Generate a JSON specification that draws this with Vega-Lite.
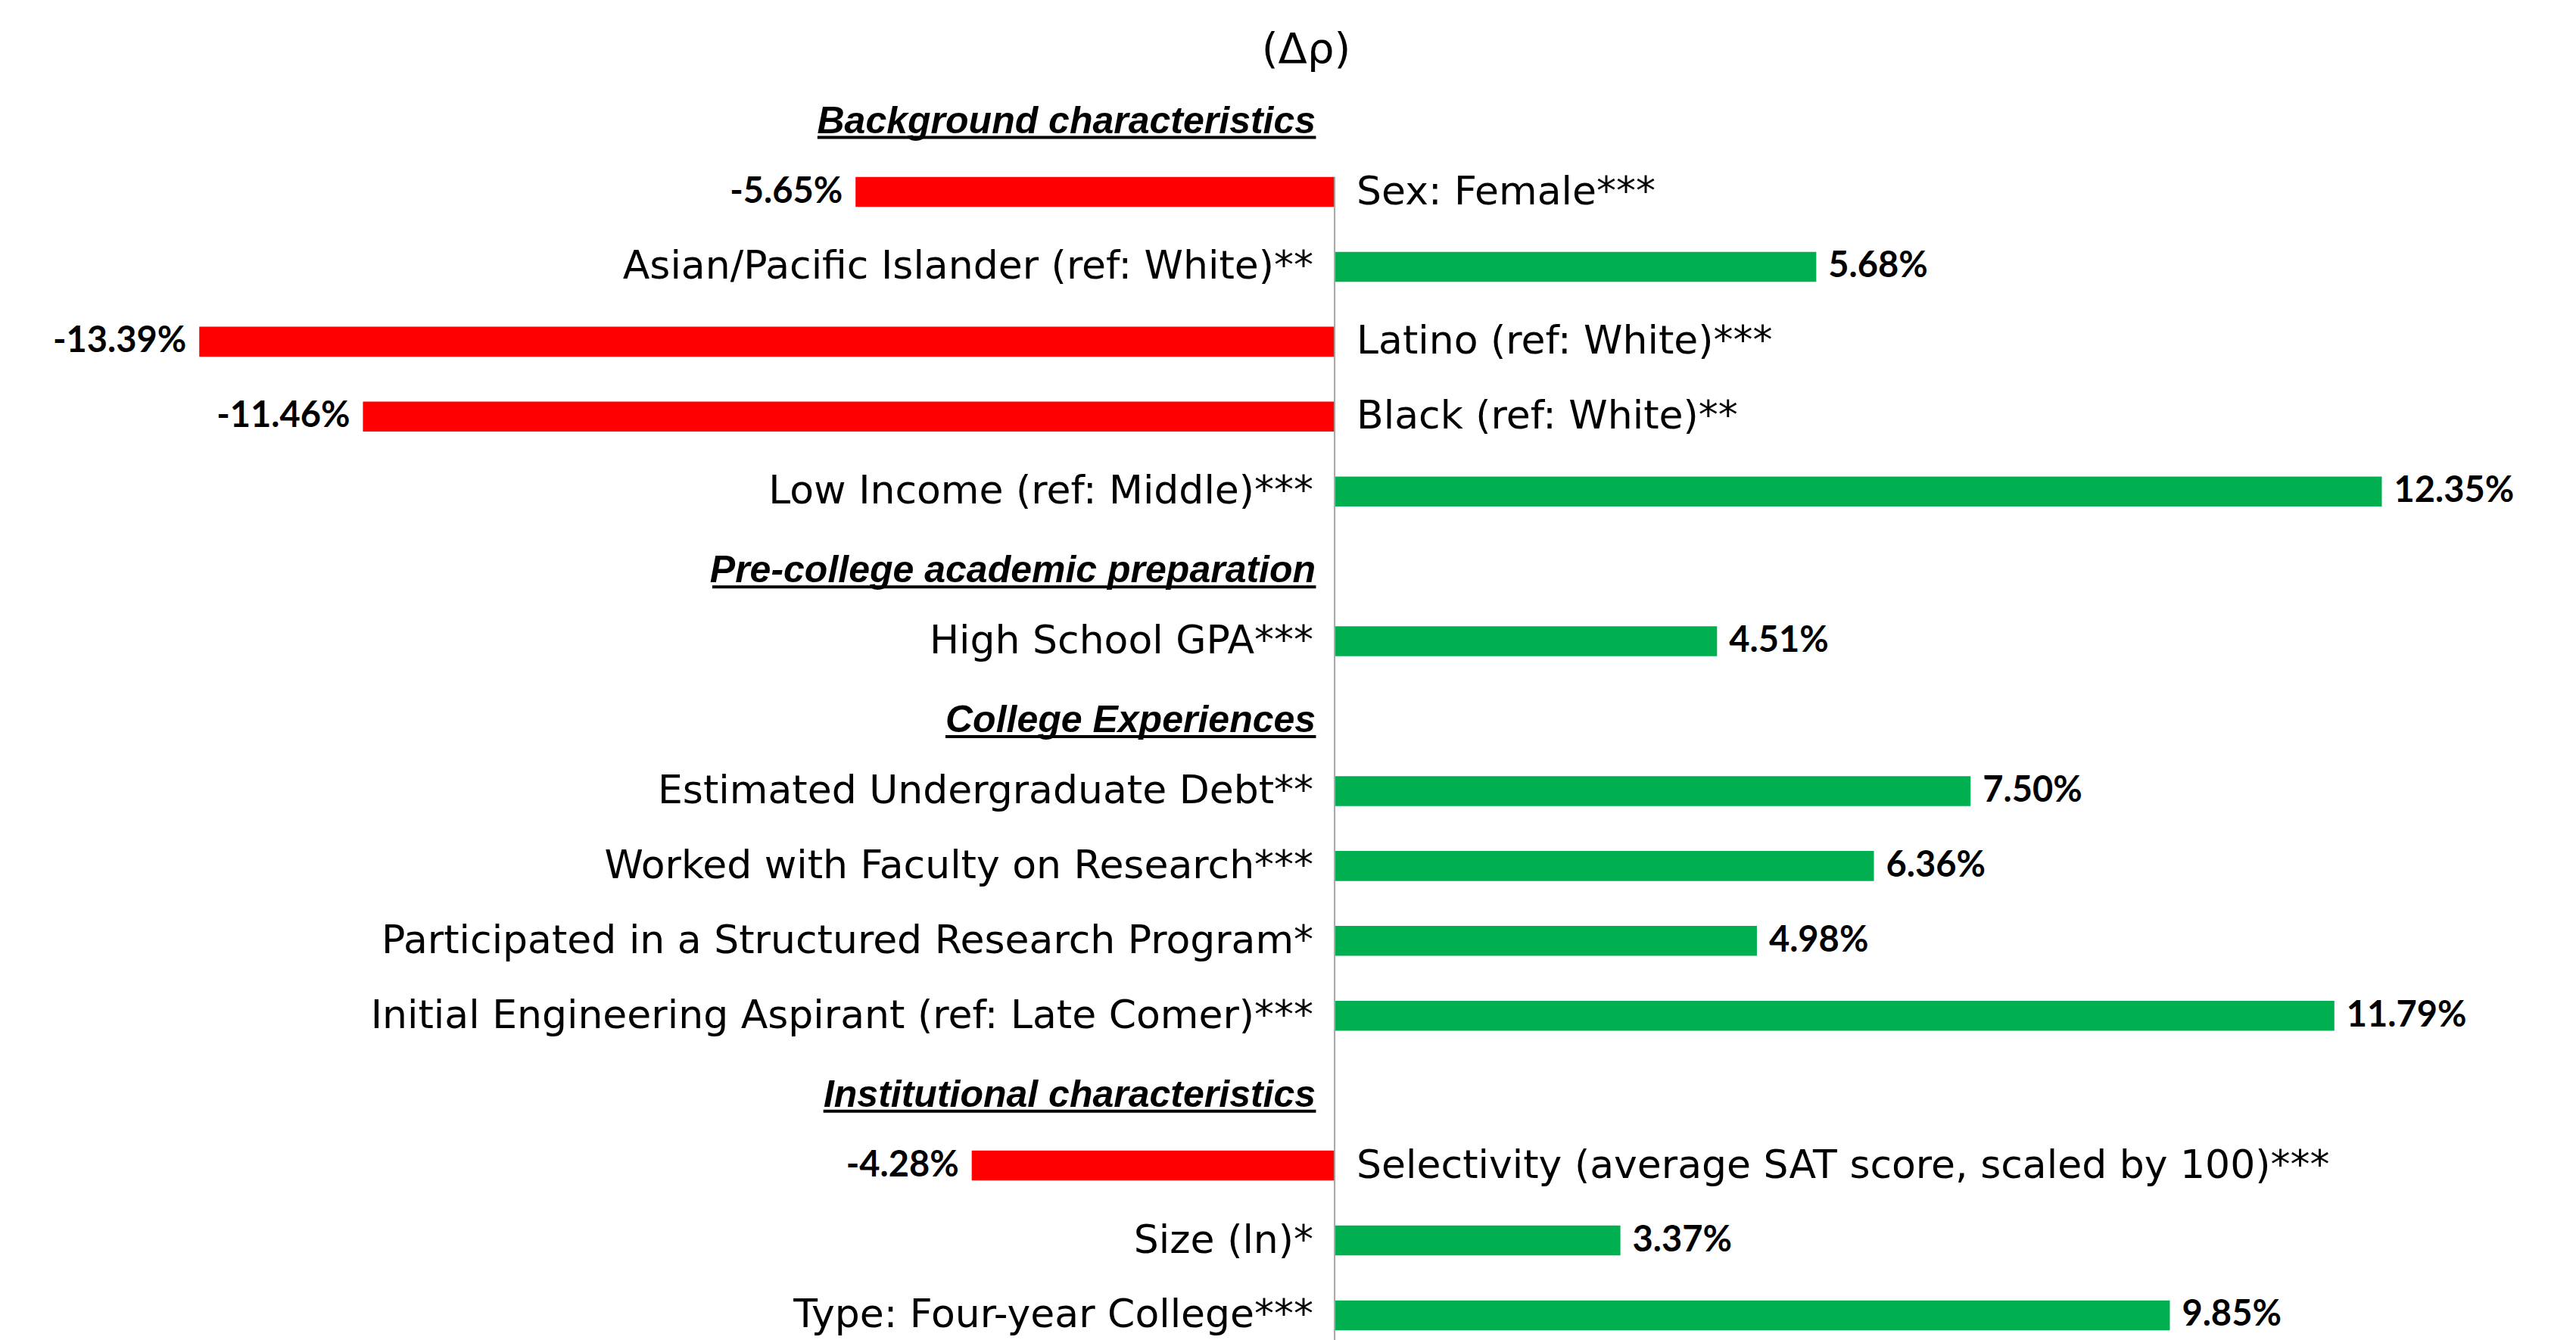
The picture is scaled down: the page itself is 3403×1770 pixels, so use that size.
{
  "$schema": "https://vega.github.io/schema/vega-lite/v6.json",
  "width": 3403,
  "height": 1662,
  "autosize": {"type": "none"},
  "padding": {"top": 115, "left": 0, "right": 0, "bottom": 0},
  "background": "white",
  "config": {"view": {"stroke": null}},
  "title": {
    "text": "(Δρ)",
    "font": "DejaVu Sans",
    "fontSize": 56,
    "fontWeight": "normal",
    "color": "black",
    "anchor": "middle",
    "frame": "group",
    "baseline": "alphabetic",
    "offset": 43,
    "dx": 24,
    "dy": 67
  },
  "datasets": {
    "items": [
      {"label": "Sex: Female***", "value": -5.65, "pct": "-5.65%"},
      {"label": "Asian/Pacific Islander (ref: White)**", "value": 5.68, "pct": "5.68%"},
      {"label": "Latino (ref: White)***", "value": -13.39, "pct": "-13.39%"},
      {"label": "Black (ref: White)**", "value": -11.46, "pct": "-11.46%"},
      {"label": "Low Income (ref: Middle)***", "value": 12.35, "pct": "12.35%"},
      {"label": "High School GPA***", "value": 4.51, "pct": "4.51%"},
      {"label": "Estimated Undergraduate Debt**", "value": 7.50, "pct": "7.50%"},
      {"label": "Worked with Faculty on Research***", "value": 6.36, "pct": "6.36%"},
      {"label": "Participated in a Structured Research Program*", "value": 4.98, "pct": "4.98%"},
      {"label": "Initial Engineering Aspirant (ref: Late Comer)***", "value": 11.79, "pct": "11.79%"},
      {"label": "Selectivity (average SAT score, scaled by 100)***", "value": -4.28, "pct": "-4.28%"},
      {"label": "Size (ln)*", "value": 3.37, "pct": "3.37%"},
      {"label": "Type: Four-year College***", "value": 9.85, "pct": "9.85%"}
    ],
    "headers": [
      {"label": "Background characteristics", "underlineFrom": -6.10, "underlineTo": -0.22},
      {"label": "Pre-college academic preparation", "underlineFrom": -7.34, "underlineTo": -0.22},
      {"label": "College Experiences", "underlineFrom": -4.59, "underlineTo": -0.22},
      {"label": "Institutional characteristics", "underlineFrom": -6.03, "underlineTo": -0.22}
    ]
  },
  "layer": [
    {
      "data": {"name": "items"},
      "mark": {"type": "bar"},
      "encoding": {
        "x": {"field": "value", "type": "quantitative", "axis": null,
              "scale": {"domain": [-15.74, 14.64], "nice": false, "zero": false}},
        "y": {"field": "label", "type": "nominal", "axis": null, "sort": null,
              "scale": {"domain": [
                "Background characteristics",
                "Sex: Female***",
                "Asian/Pacific Islander (ref: White)**",
                "Latino (ref: White)***",
                "Black (ref: White)**",
                "Low Income (ref: Middle)***",
                "Pre-college academic preparation",
                "High School GPA***",
                "College Experiences",
                "Estimated Undergraduate Debt**",
                "Worked with Faculty on Research***",
                "Participated in a Structured Research Program*",
                "Initial Engineering Aspirant (ref: Late Comer)***",
                "Institutional characteristics",
                "Selectivity (average SAT score, scaled by 100)***",
                "Size (ln)*",
                "Type: Four-year College***"
              ], "paddingInner": 0.6, "paddingOuter": 0.2}},
        "x2": {"datum": 0},
        "color": {"condition": {"test": "datum.value < 0", "value": "#ff0000"}, "value": "#00b050"}
      }
    },
    {
      "data": {"values": [{}]},
      "mark": {"type": "rule", "color": "#a6a6a6", "strokeWidth": 2},
      "encoding": {
        "x": {"datum": 0, "type": "quantitative"},
        "y": {"datum": "Sex: Female***", "type": "nominal", "bandPosition": 0},
        "y2": {"value": "height"}
      }
    },
    {
      "data": {"name": "items"},
      "transform": [{"filter": "datum.value < 0"}],
      "mark": {"type": "text", "align": "left", "baseline": "middle", "dx": 29,
               "font": "DejaVu Sans", "fontSize": 52, "color": "black"},
      "encoding": {
        "x": {"datum": 0, "type": "quantitative"},
        "y": {"field": "label", "type": "nominal"},
        "text": {"field": "label"}
      }
    },
    {
      "data": {"name": "items"},
      "transform": [{"filter": "datum.value >= 0"}],
      "mark": {"type": "text", "align": "right", "baseline": "middle", "dx": -28,
               "font": "DejaVu Sans", "fontSize": 52, "color": "black"},
      "encoding": {
        "x": {"datum": 0, "type": "quantitative"},
        "y": {"field": "label", "type": "nominal"},
        "text": {"field": "label"}
      }
    },
    {
      "data": {"name": "items"},
      "transform": [{"filter": "datum.value < 0"}],
      "mark": {"type": "text", "align": "right", "baseline": "middle", "dx": -17,
               "font": "Lato", "fontWeight": "bold", "fontSize": 47, "color": "black"},
      "encoding": {
        "x": {"field": "value", "type": "quantitative"},
        "y": {"field": "label", "type": "nominal"},
        "text": {"field": "pct"}
      }
    },
    {
      "data": {"name": "items"},
      "transform": [{"filter": "datum.value >= 0"}],
      "mark": {"type": "text", "align": "left", "baseline": "middle", "dx": 16,
               "font": "Lato", "fontWeight": "bold", "fontSize": 47, "color": "black"},
      "encoding": {
        "x": {"field": "value", "type": "quantitative"},
        "y": {"field": "label", "type": "nominal"},
        "text": {"field": "pct"}
      }
    },
    {
      "data": {"name": "headers"},
      "mark": {"type": "text", "align": "right", "baseline": "middle", "dx": -25, "dy": 6,
               "font": "Liberation Sans", "fontWeight": "bold", "fontStyle": "italic",
               "fontSize": 50, "color": "black"},
      "encoding": {
        "x": {"datum": 0, "type": "quantitative"},
        "y": {"field": "label", "type": "nominal"},
        "text": {"field": "label"}
      }
    },
    {
      "data": {"name": "headers"},
      "mark": {"type": "rule", "color": "black", "strokeWidth": 4, "yOffset": 27},
      "encoding": {
        "x": {"field": "underlineFrom", "type": "quantitative"},
        "x2": {"field": "underlineTo"},
        "y": {"field": "label", "type": "nominal"}
      }
    }
  ]
}
